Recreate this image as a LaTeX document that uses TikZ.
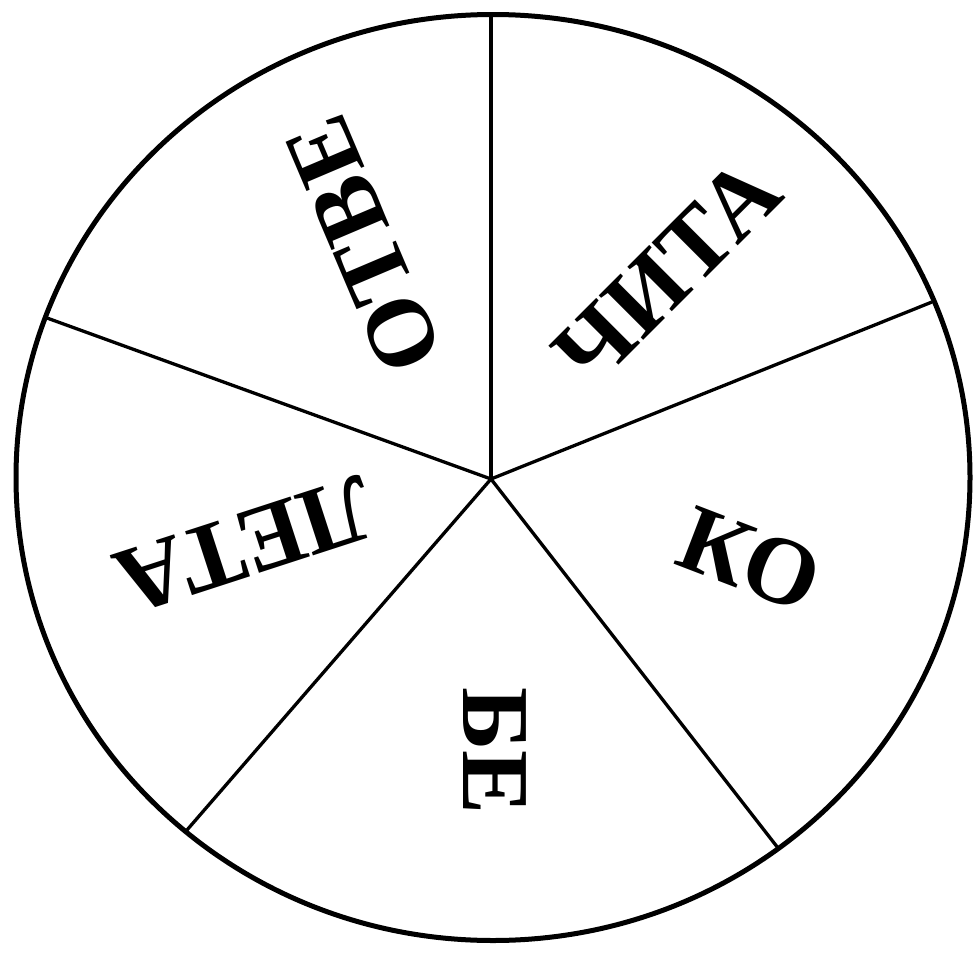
\documentclass[tikz,border=0pt]{standalone}
\usepackage{fontspec}
\setmainfont{Liberation Serif}
\tikzset{
  rim/.style={line width=5pt},
  spoke/.style={line width=3.3pt},
  word/.style={font=\fontsize{96}{96}\selectfont\bfseries, inner sep=0pt, anchor=center}
}
\begin{document}
\begin{tikzpicture}[x=1pt,y=-1pt]
\useasboundingbox (0,0) rectangle (978,953);
\draw[rim] (493,477.5) ellipse [x radius=477, y radius=463];
\coordinate (c) at (491,479);
\coordinate (p1) at (491,14.5);
\coordinate (p2) at (932,302);
\coordinate (p3) at (778,848);
\coordinate (p4) at (187,830);
\coordinate (p5) at (47,318);
\foreach \p in {p1,p2,p3,p4,p5} \draw[spoke] (c) -- (\p);
\node[word, rotate=113] (w1) at (364,245) {ОТВЕ};
\node[word, rotate=45] (w2) at (667,272) {ЧИТА};
\node[word, rotate=-21] (w3) at (750,560) {КО};
\node[word, rotate=-90] (w4) at (495,751) {БЕ};
\node[word, rotate=198] (w5) at (245,545) {ЛЕТА};
\end{tikzpicture}
\end{document}
